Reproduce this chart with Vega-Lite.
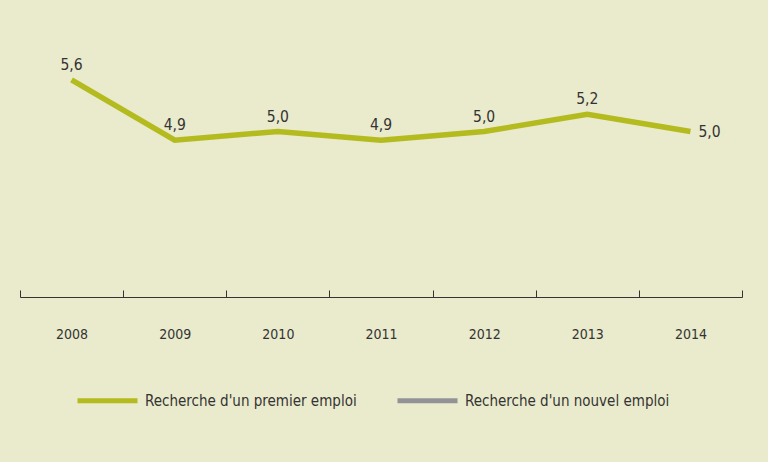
{
  "$schema": "https://vega.github.io/schema/vega-lite/v6.json",
  "autosize": {"type": "none"},
  "width": 722,
  "height": 257,
  "padding": {"left": 20, "top": 40, "right": 26, "bottom": 165},
  "background": "#eaeacc",
  "config": {
    "view": {"stroke": null},
    "font": "DejaVu Sans Condensed",
    "locale": {"number": {"decimal": ",", "thousands": " ", "grouping": [3], "currency": ["", " €"]}}
  },
  "data": {
    "values": [
      {"year": "2008", "value": 5.6, "serie": "Recherche d'un premier emploi"},
      {"year": "2009", "value": 4.9, "serie": "Recherche d'un premier emploi"},
      {"year": "2010", "value": 5.0, "serie": "Recherche d'un premier emploi"},
      {"year": "2011", "value": 4.9, "serie": "Recherche d'un premier emploi"},
      {"year": "2012", "value": 5.0, "serie": "Recherche d'un premier emploi"},
      {"year": "2013", "value": 5.2, "serie": "Recherche d'un premier emploi"},
      {"year": "2014", "value": 5.0, "serie": "Recherche d'un premier emploi"}
    ]
  },
  "encoding": {
    "x": {
      "field": "year", "type": "ordinal", "bandPosition": 0.5,
      "scale": {"type": "band", "paddingInner": 0, "paddingOuter": 0},
      "axis": {
        "title": null, "grid": false, "domainColor": "#333333", "domainWidth": 1,
        "tickBand": "extent", "tickSize": -7, "tickColor": "#333333", "tickWidth": 1,
        "labelAngle": 0, "labelFontSize": 14, "labelColor": "#333333", "labelPadding": 37, "labelDx": 5
      }
    },
    "y": {
      "field": "value", "type": "quantitative",
      "scale": {"domain": [3.076, 6.064], "nice": false, "zero": false},
      "axis": null
    }
  },
  "layer": [
    {
      "mark": {"type": "line", "strokeWidth": 5.5, "strokeCap": "butt", "strokeJoin": "miter"},
      "encoding": {
        "color": {
          "field": "serie", "type": "nominal",
          "scale": {"domain": ["Recherche d'un premier emploi", "Recherche d'un nouvel emploi"], "range": ["#b3bb1e", "#929297"]},
          "legend": {
            "title": null, "orient": "none", "legendX": 55, "legendY": 328, "direction": "horizontal",
            "symbolType": "stroke", "symbolSize": 3600, "symbolStrokeWidth": 5,
            "labelFontSize": 15, "labelColor": "#333333", "labelOffset": 5, "columnPadding": 30, "labelLimit": 400
          }
        }
      }
    },
    {
      "transform": [{"filter": "datum.year != '2014'"}],
      "mark": {"type": "text", "dy": -15, "fontSize": 15.5, "color": "#333333"},
      "encoding": {"text": {"field": "value", "type": "quantitative", "format": ".1f"}}
    },
    {
      "transform": [{"filter": "datum.year == '2014'"}],
      "mark": {"type": "text", "align": "left", "dx": 8, "fontSize": 15.5, "color": "#333333"},
      "encoding": {"text": {"field": "value", "type": "quantitative", "format": ".1f"}}
    }
  ]
}
